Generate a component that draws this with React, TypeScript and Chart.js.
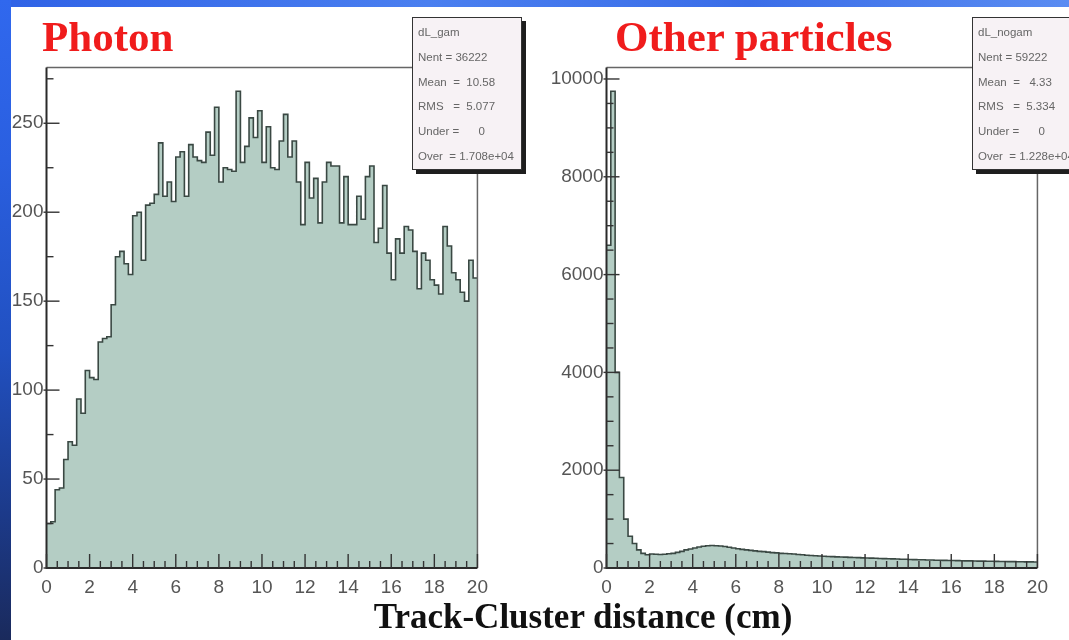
import React, { useEffect, useRef } from "react";
import { Chart, registerables } from "chart.js";
Chart.register(...registerables);

// ---- data ----
const BIN_WIDTH = 0.2;
const X_MIN = 0;
const X_MAX = 20;

const photonCounts = [
  25, 26, 44, 45, 61, 71, 69, 95, 87, 111,
  107, 106, 127, 129, 130, 148, 175, 178, 171, 165,
  198, 200, 173, 204, 205, 210, 239, 209, 217, 206,
  231, 234, 209, 238, 231, 229, 228, 245, 232, 259,
  217, 225, 224, 223, 268, 228, 237, 253, 242, 257,
  228, 248, 225, 224, 240, 255, 231, 240, 217, 193,
  228, 208, 219, 194, 217, 228, 226, 226, 194, 220,
  193, 193, 209, 196, 220, 226, 183, 191, 215, 177,
  162, 185, 177, 192, 190, 178, 157, 177, 173, 162,
  159, 154, 192, 181, 166, 162, 155, 150, 173, 163,
];

const otherCounts = [
  6600, 9750, 4000, 1850, 1000, 650, 500, 370, 300, 270,
  285, 280, 275, 280, 290, 300, 320, 340, 370, 390,
  410, 430, 445, 455, 460, 455, 450, 440, 425, 410,
  395, 380, 370, 360, 350, 340, 335, 325, 315, 310,
  300, 295, 290, 285, 275, 270, 262, 255, 250, 245,
  240, 236, 232, 228, 225, 222, 218, 215, 212, 208,
  205, 202, 198, 195, 192, 190, 186, 183, 180, 178,
  175, 172, 170, 168, 165, 163, 160, 158, 156, 154,
  152, 150, 148, 146, 145, 143, 141, 140, 138, 137,
  135, 134, 132, 131, 130, 128, 127, 126, 125, 124,
];

const xTickLabels = [0, 2, 4, 6, 8, 10, 12, 14, 16, 18, 20];
const photonYTicks = [0, 50, 100, 150, 200, 250];
const otherYTicks = [0, 2000, 4000, 6000, 8000, 10000];

const photonStats = ["dL_gam", "Nent = 36222", "Mean  =  10.58", "RMS   =  5.077", "Under =      0", "Over  = 1.708e+04"];
const otherStats = ["dL_nogam", "Nent = 59222", "Mean  =   4.33", "RMS   =  5.334", "Under =      0", "Over  = 1.228e+04"];

const FILL = "#b4cdc4";
const LINE = "#3a4843";
const TICK_FONT = { family: "'Liberation Sans', Arial, sans-serif", size: 19 };

const framePlugin = {
  id: "rootFrame",
  afterDatasetsDraw(chart: any, _args: any, opts: any) {
    const { ctx, chartArea } = chart;
    const { left, right, top, bottom } = chartArea;
    const xs = chart.scales.x;
    const ys = chart.scales.y;
    ctx.save();
    ctx.strokeStyle = "#666";
    ctx.lineWidth = 1.5;
    ctx.beginPath();
    ctx.moveTo(left, top);
    ctx.lineTo(right, top);
    ctx.lineTo(right, bottom);
    ctx.stroke();
    ctx.strokeStyle = "#2a2a2a";
    ctx.lineWidth = 2;
    ctx.beginPath();
    ctx.moveTo(left, top);
    ctx.lineTo(left, bottom);
    ctx.lineTo(right, bottom);
    ctx.stroke();
    ctx.lineWidth = 1.4;
    ctx.strokeStyle = "#333";
    for (let v = X_MIN; v <= X_MAX + 1e-9; v += opts.xMinor) {
      const px = xs.getPixelForValue(v);
      const major = Math.abs(v / 2 - Math.round(v / 2)) < 1e-6;
      const len = major ? 14 : 7;
      ctx.beginPath();
      ctx.moveTo(px, bottom);
      ctx.lineTo(px, bottom - len);
      ctx.stroke();
    }
    for (let v = 0; v <= ys.max + 1e-9; v += opts.yMinor) {
      const py = ys.getPixelForValue(v);
      const major = opts.yTicks.includes(v);
      const len = major ? 13 : 7;
      ctx.beginPath();
      ctx.moveTo(left - (major ? 3 : 0), py);
      ctx.lineTo(left + len, py);
      ctx.stroke();
    }
    ctx.restore();
  },
};

type HistProps = {
  counts: number[];
  yMax: number;
  yTicks: number[];
  yMinor: number;
  yAxisWidth: number;
  left: number;
  width: number;
};

const CANVAS_TOP = 53;
const CANVAS_H = 547;

function Hist({ counts, yMax, yTicks, yMinor, yAxisWidth, left, width }: HistProps) {
  const ref = useRef<HTMLCanvasElement | null>(null);
  useEffect(() => {
    if (!ref.current) return;
    const pts = counts.map((v, i) => ({ x: i * BIN_WIDTH, y: v }));
    pts.push({ x: X_MAX, y: counts[counts.length - 1] });
    const chart = new Chart(ref.current, {
      type: "line",
      data: {
        datasets: [
          {
            data: pts,
            stepped: true,
            fill: "origin",
            backgroundColor: FILL,
            borderColor: LINE,
            borderWidth: 1.6,
            pointRadius: 0,
            tension: 0,
          } as any,
        ],
      },
      options: {
        animation: false,
        responsive: false,
        maintainAspectRatio: false,
        layout: { padding: { top: 0, right: 13, left: 0, bottom: 0 } },
        plugins: {
          legend: { display: false },
          tooltip: { enabled: false },
          rootFrame: { xMinor: 0.5, yMinor, yTicks },
        } as any,
        scales: {
          x: {
            type: "linear",
            min: X_MIN,
            max: X_MAX,
            afterBuildTicks: (s: any) => {
              s.ticks = xTickLabels.map((v) => ({ value: v }));
            },
            afterFit: (s: any) => {
              s.height = 32;
            },
            ticks: {
              font: TICK_FONT,
              color: "#555",
              padding: 8,
              maxRotation: 0,
              autoSkip: false,
              callback: (v: any) => String(v),
            },
            grid: { display: false, drawTicks: false },
            border: { display: false },
          },
          y: {
            type: "linear",
            min: 0,
            max: yMax,
            afterBuildTicks: (s: any) => {
              s.ticks = yTicks.map((v) => ({ value: v }));
            },
            afterFit: (s: any) => {
              s.width = yAxisWidth;
            },
            ticks: { font: TICK_FONT, color: "#555", padding: 3, callback: (v: any) => String(v) },
            grid: { display: false, drawTicks: false },
            border: { display: false },
          },
        },
      },
      plugins: [framePlugin],
    });
    return () => chart.destroy();
  }, []);
  return (
    <canvas
      ref={ref}
      width={width}
      height={CANVAS_H}
      style={{ position: "absolute", left, top: CANVAS_TOP, width, height: CANVAS_H }}
    />
  );
}

function StatsBox({ lines, left }: { lines: string[]; left: number }) {
  return (
    <div
      style={{
        position: "absolute",
        left,
        top: 17,
        width: 108,
        height: 151,
        background: "#f7f2f5",
        border: "1px solid #333",
        boxShadow: "4px 4px 0 #1e1e1e",
        fontFamily: "'Liberation Sans', Arial, sans-serif",
        fontSize: 11.5,
        color: "#666",
        overflow: "hidden",
      }}
    >
      {lines.map((t, i) => (
        <div
          key={i}
          style={{ position: "absolute", left: 5, top: 8 + i * 24.8, whiteSpace: "pre", lineHeight: "13px" }}
        >
          {t}
        </div>
      ))}
    </div>
  );
}

export default function App() {
  useEffect(() => {
    document.body.style.margin = "0";
  }, []);
  return (
    <div style={{ position: "fixed", left: 0, top: 0, width: 1069, height: 640, overflow: "hidden", background: "#fff" }}>
      <div
        style={{
          position: "absolute",
          left: 0,
          top: 0,
          width: 1069,
          height: 7,
          background: "linear-gradient(90deg, #2f62e6, #4a7ff0 40%, #3a6de8 70%, #5a8cf2)",
        }}
      />
      <div
        style={{
          position: "absolute",
          left: 0,
          top: 0,
          width: 11,
          height: 640,
          background: "linear-gradient(180deg, #3068ee 0%, #2a5fe0 25%, #2150c0 55%, #1c3a8a 80%, #1a2a5c 100%)",
        }}
      />
      <Hist counts={photonCounts} yMax={281.4} yTicks={photonYTicks} yMinor={25} yAxisWidth={46.5} left={0} width={496} />
      <Hist counts={otherCounts} yMax={10237} yTicks={otherYTicks} yMinor={500} yAxisWidth={66.5} left={540} width={516} />
      <div
        style={{
          position: "absolute",
          left: 42,
          top: 12,
          fontFamily: "'Liberation Serif', 'Times New Roman', serif",
          fontWeight: "bold",
          fontSize: 43,
          color: "#f01c1c",
          lineHeight: "50px",
          whiteSpace: "nowrap",
        }}
      >
        Photon
      </div>
      <div
        style={{
          position: "absolute",
          left: 615,
          top: 12,
          fontFamily: "'Liberation Serif', 'Times New Roman', serif",
          fontWeight: "bold",
          fontSize: 43,
          color: "#f01c1c",
          lineHeight: "50px",
          whiteSpace: "nowrap",
        }}
      >
        Other particles
      </div>
      <StatsBox lines={photonStats} left={412} />
      <StatsBox lines={otherStats} left={972} />
      <div
        style={{
          position: "absolute",
          left: 0,
          width: 1166,
          top: 597,
          textAlign: "center",
          fontFamily: "'Liberation Serif', 'Times New Roman', serif",
          fontWeight: "bold",
          fontSize: 35,
          color: "#111",
          lineHeight: "40px",
          whiteSpace: "nowrap",
        }}
      >
        Track-Cluster distance (cm)
      </div>
    </div>
  );
}
